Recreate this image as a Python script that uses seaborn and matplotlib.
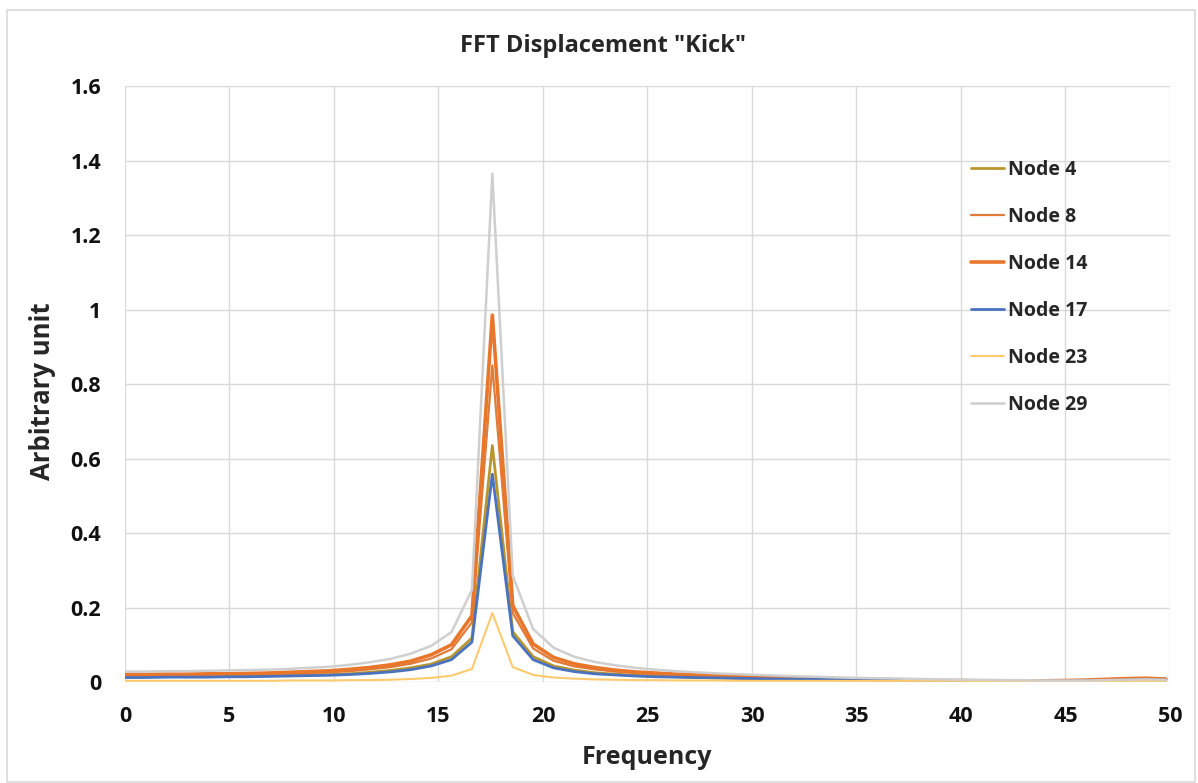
import numpy as np
import pandas as pd
import matplotlib
matplotlib.use("Agg")
import matplotlib.pyplot as plt
import seaborn as sns

# FFT bin grid: 1024-point transform sampled at 1 kHz
bin_width = 1000 / 1024
freq = np.arange(52) * bin_width

node_4 = [0.014, 0.014, 0.015, 0.015, 0.015, 0.016, 0.016, 0.017, 0.018, 0.019,
          0.020, 0.022, 0.026, 0.031, 0.038, 0.048, 0.068, 0.118, 0.635, 0.135,
          0.068, 0.043, 0.032, 0.025, 0.021, 0.018, 0.016, 0.014, 0.012, 0.011,
          0.010, 0.009, 0.008, 0.007, 0.007, 0.006, 0.005, 0.005, 0.004, 0.004,
          0.003, 0.003, 0.002, 0.002, 0.002, 0.002, 0.003, 0.004, 0.005, 0.006,
          0.007, 0.006]
node_8 = [0.018, 0.018, 0.018, 0.019, 0.019, 0.020, 0.020, 0.021, 0.022, 0.024,
          0.026, 0.029, 0.034, 0.040, 0.049, 0.063, 0.088, 0.160, 0.850, 0.185,
          0.090, 0.057, 0.042, 0.034, 0.028, 0.024, 0.021, 0.018, 0.016, 0.014,
          0.013, 0.012, 0.011, 0.010, 0.009, 0.008, 0.007, 0.006, 0.005, 0.004,
          0.004, 0.003, 0.003, 0.003, 0.003, 0.003, 0.004, 0.005, 0.007, 0.009,
          0.010, 0.008]
node_14 = [0.020, 0.020, 0.021, 0.021, 0.022, 0.022, 0.023, 0.024, 0.026, 0.028,
           0.030, 0.034, 0.039, 0.046, 0.056, 0.073, 0.100, 0.178, 0.985, 0.205,
           0.102, 0.066, 0.049, 0.039, 0.032, 0.027, 0.024, 0.021, 0.019, 0.017,
           0.015, 0.013, 0.012, 0.011, 0.010, 0.009, 0.008, 0.007, 0.006, 0.005,
           0.004, 0.004, 0.003, 0.003, 0.003, 0.003, 0.004, 0.005, 0.007, 0.009,
           0.010, 0.008]
node_17 = [0.012, 0.012, 0.013, 0.013, 0.013, 0.014, 0.014, 0.015, 0.016, 0.017,
           0.018, 0.020, 0.023, 0.027, 0.033, 0.043, 0.060, 0.107, 0.558, 0.124,
           0.060, 0.038, 0.028, 0.022, 0.019, 0.016, 0.014, 0.013, 0.012, 0.011,
           0.010, 0.009, 0.008, 0.008, 0.007, 0.007, 0.006, 0.006, 0.005, 0.004,
           0.003, 0.003, 0.002, 0.002, 0.002, 0.002, 0.002, 0.003, 0.004, 0.005,
           0.006, 0.005]
node_23 = [0.003, 0.003, 0.003, 0.003, 0.003, 0.003, 0.003, 0.003, 0.004, 0.004,
           0.004, 0.005, 0.005, 0.006, 0.008, 0.011, 0.017, 0.035, 0.185, 0.040,
           0.019, 0.012, 0.009, 0.007, 0.006, 0.005, 0.005, 0.004, 0.004, 0.004,
           0.003, 0.003, 0.003, 0.003, 0.003, 0.003, 0.003, 0.003, 0.003, 0.003,
           0.003, 0.003, 0.002, 0.002, 0.002, 0.001, 0.001, 0.002, 0.002, 0.003,
           0.003, 0.003]
node_29 = [0.028, 0.028, 0.029, 0.029, 0.030, 0.031, 0.032, 0.033, 0.035, 0.038,
           0.041, 0.046, 0.053, 0.062, 0.076, 0.097, 0.134, 0.247, 1.365, 0.285,
           0.142, 0.092, 0.068, 0.054, 0.045, 0.038, 0.033, 0.029, 0.026, 0.023,
           0.021, 0.019, 0.017, 0.015, 0.014, 0.012, 0.011, 0.010, 0.009, 0.008,
           0.007, 0.006, 0.006, 0.005, 0.005, 0.004, 0.004, 0.004, 0.005, 0.006,
           0.007, 0.006]

series_names = ["Node 4", "Node 8", "Node 14", "Node 17", "Node 23", "Node 29"]
series_values = [node_4, node_8, node_14, node_17, node_23, node_29]
colors = ["#B8962E", "#E07B39", "#E8762B", "#4A72BE", "#FDCB6E", "#CFCFCF"]
widths = [2.0, 1.6, 2.6, 2.0, 1.5, 1.8]

df = pd.concat(
    [pd.DataFrame({"Frequency": freq, "value": vals, "series": name})
     for name, vals in zip(series_names, series_values)],
    ignore_index=True,
)

sns.set_theme(style="whitegrid")
plt.rcParams["font.family"] = ["Open Sans", "DejaVu Sans"]

fig = plt.figure(figsize=(11.98, 7.83), dpi=100)
ax = fig.add_axes([0.1043, 0.129, 0.8723, 0.761])

for name, col, lw in zip(series_names, colors, widths):
    sns.lineplot(data=df[df["series"] == name], x="Frequency", y="value",
                 color=col, linewidth=lw, label=name, ax=ax)

ax.set_xlim(0, 50)
ax.set_ylim(0, 1.6)
ax.set_xticks(np.arange(0, 51, 5))
ax.set_yticks(np.arange(0, 1.61, 0.2))
ax.set_yticklabels(["0", "0.2", "0.4", "0.6", "0.8", "1", "1.2", "1.4", "1.6"])
ax.grid(True, color="#D9D9D9", linewidth=1.0)
for s in ax.spines.values():
    s.set_visible(False)
ax.tick_params(axis="both", length=0, labelsize=15.5, colors="#111111")
ax.tick_params(axis="y", pad=17)
ax.tick_params(axis="x", pad=17)
for lab in ax.get_xticklabels() + ax.get_yticklabels():
    lab.set_fontweight("bold")

ax.set_xlabel("Frequency", fontsize=18, fontweight="bold")
ax.set_ylabel("Arbitrary unit", fontsize=18.5, fontweight="bold")
ax.xaxis.set_label_coords(0.5, -0.105)
ax.yaxis.set_label_coords(-0.066, 0.488)
fig.suptitle('FFT Displacement "Kick"', x=0.503, y=0.957, fontsize=17,
             fontweight="bold")

leg = ax.legend(loc="upper left", bbox_to_anchor=(0.793, 0.906), frameon=False,
                prop={"weight": "bold", "size": 14}, handlelength=1.7,
                handletextpad=0.2, labelspacing=1.39)

# light chart-area border
fig.patches.append(plt.Rectangle((0.0058, 0.001), 0.9917, 0.9862,
                                 transform=fig.transFigure, fill=False,
                                 edgecolor="#D9D9D9", linewidth=1.2))

fig.savefig("out.png", dpi=100, facecolor="white")
